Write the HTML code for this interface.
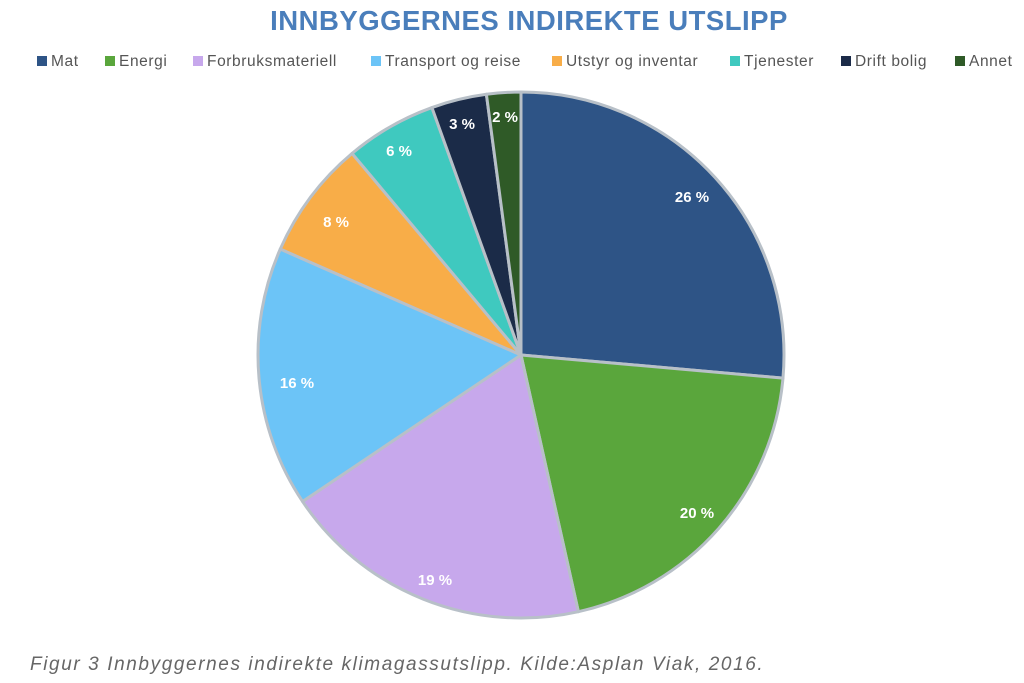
<!DOCTYPE html>
<html><head><meta charset="utf-8"><style>
body{margin:0;background:#fff;width:1024px;height:683px;overflow:hidden;font-family:"Liberation Sans",sans-serif;position:relative}
.t{position:absolute;left:0;width:1058px;text-align:center;top:5px;font-size:27.5px;font-weight:bold;color:#4a7ebb;letter-spacing:0.5px}
.lg{position:absolute;top:53px;font-size:15.5px;color:#555;white-space:nowrap;letter-spacing:0.6px}
.lg i{display:inline-block;width:10px;height:10px;margin-right:4px;vertical-align:0px}
.cap{position:absolute;left:30px;top:654px;font-size:19px;font-style:italic;color:#666;letter-spacing:1.6px;white-space:nowrap}
</style></head><body>
<div class="t">INNBYGGERNES INDIREKTE UTSLIPP</div>
<div class="lg" style="left:37px"><i style="background:#2e5486"></i>Mat</div>
<div class="lg" style="left:105px"><i style="background:#5aa63c"></i>Energi</div>
<div class="lg" style="left:193px"><i style="background:#c7a8ec"></i>Forbruksmateriell</div>
<div class="lg" style="left:371px"><i style="background:#6cc4f7"></i>Transport og reise</div>
<div class="lg" style="left:552px"><i style="background:#f8ad48"></i>Utstyr og inventar</div>
<div class="lg" style="left:730px"><i style="background:#3fc9bf"></i>Tjenester</div>
<div class="lg" style="left:841px"><i style="background:#1b2b48"></i>Drift bolig</div>
<div class="lg" style="left:955px"><i style="background:#2f5a27"></i>Annet</div>
<svg id="s" width="1024" height="683" style="position:absolute;left:0;top:0"></svg>
<div class="cap">Figur 3 Innbyggernes indirekte klimagassutslipp. Kilde:Asplan Viak, 2016.</div>
<script>
var cx=521,cy=355,r=263;
var d=[[26.4,"#2e5486"],[20.1,"#5aa63c"],[19.1,"#c7a8ec"],[16,"#6cc4f7"],[7.3,"#f8ad48"],[5.6,"#3fc9bf"],[3.4,"#1b2b48"],[2.1,"#2f5a27"]];
var a=0,h="";
function pt(p){var t=p/100*2*Math.PI;return (cx+r*Math.sin(t)).toFixed(2)+","+(cy-r*Math.cos(t)).toFixed(2);}
d.forEach(function(s){var b=a+s[0];h+='<path d="M'+cx+','+cy+' L'+pt(a)+' A'+r+','+r+' 0 '+(s[0]>50?1:0)+' 1 '+pt(b)+' Z" fill="'+s[1]+'" stroke="#b8c0c8" stroke-width="3" stroke-linejoin="round"/>';a=b;});
var L=[["26 %",692,197],["20 %",697,513],["19 %",435,580],["16 %",297,383],["8 %",336,222],["6 %",399,151],["3 %",462,124],["2 %",505,117]];
L.forEach(function(l){h+='<text x="'+l[1]+'" y="'+(l[2]+5)+'" text-anchor="middle" font-family="Liberation Sans" font-weight="bold" font-size="15" fill="#fff">'+l[0]+'</text>';});
document.getElementById("s").innerHTML=h;
</script>
</body></html>
